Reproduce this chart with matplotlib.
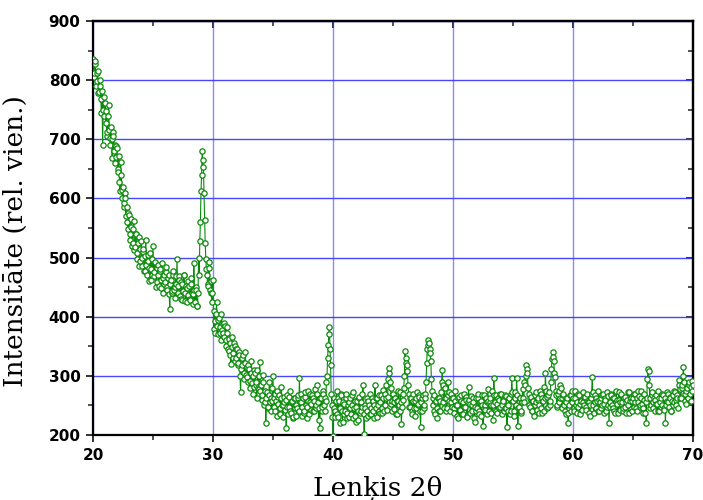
import numpy as np
import matplotlib
matplotlib.use("Agg")
import matplotlib.pyplot as plt
from matplotlib.ticker import MultipleLocator

# ---- Data ----
TWO_THETA_START = 20.0
TWO_THETA_STEP = 0.05

# intensity, one row per degree (20.00 ... 70.00, step 0.05)
INTENSITY = [
    835, 805, 812, 828, 832, 790, 798, 812, 815, 778, 780, 800, 790, 768, 745, 782, 690, 750, 772, 740,  # 20
    762, 728, 748, 705, 712, 740, 758, 715, 702, 690, 720, 700, 668, 712, 705, 680, 690, 660, 670, 688,  # 21
    686, 650, 645, 672, 628, 612, 662, 640, 615, 600, 620, 585, 592, 610, 600, 570, 585, 560, 548, 575,  # 22
    572, 530, 540, 565, 552, 520, 525, 548, 562, 512, 518, 540, 540, 498, 508, 525, 535, 485, 495, 515,  # 23
    528, 500, 486, 510, 515, 478, 478, 502, 530, 488, 470, 495, 505, 460, 482, 508, 462, 480, 498, 470,  # 24
    520, 468, 476, 490, 492, 450, 458, 482, 488, 470, 452, 478, 480, 448, 462, 490, 440, 465, 470, 455,  # 25
    458, 476, 484, 450, 446, 465, 470, 438, 413, 455, 462, 440, 444, 470, 478, 445, 450, 432, 468, 455,  # 26
    498, 452, 440, 468, 462, 435, 430, 458, 455, 428, 444, 470, 470, 440, 426, 452, 448, 425, 436, 460,  # 27
    452, 430, 428, 455, 466, 440, 438, 422, 490, 445, 425, 450, 445, 418, 418, 440, 500, 470, 528, 560,  # 28
    612, 640, 680, 665, 653, 610, 563, 525, 498, 480, 470, 455, 452, 492, 482, 445, 440, 460, 425, 440,  # 29
    462, 380, 410, 372, 392, 405, 425, 385, 370, 395, 398, 372, 382, 360, 405, 378, 372, 388, 390, 365,  # 30
    385, 350, 360, 382, 372, 345, 342, 362, 355, 335, 320, 348, 366, 330, 338, 355, 350, 325, 330, 345,  # 31
    345, 318, 322, 340, 336, 300, 273, 312, 318, 330, 335, 295, 305, 322, 340, 302, 298, 315, 318, 290,  # 32
    312, 280, 292, 305, 325, 288, 300, 270, 282, 310, 305, 285, 290, 262, 310, 280, 278, 300, 324, 275,  # 33
    285, 260, 268, 290, 302, 250, 255, 275, 220, 262, 272, 245, 248, 268, 290, 255, 262, 240, 258, 280,  # 34
    299, 248, 262, 270, 240, 258, 275, 232, 252, 265, 268, 245, 236, 262, 282, 250, 250, 230, 265, 255,  # 35
    242, 260, 212, 248, 268, 235, 248, 265, 275, 240, 238, 258, 258, 228, 230, 262, 262, 245, 250, 232,  # 36
    245, 262, 268, 240, 296, 255, 255, 270, 232, 248, 262, 238, 240, 265, 272, 250, 248, 228, 258, 275,  # 37
    236, 255, 270, 242, 252, 268, 262, 240, 240, 258, 278, 245, 250, 270, 284, 255, 225, 245, 211, 262,  # 38
    262, 240, 248, 275, 270, 250, 240, 262, 258, 290, 300, 330, 352, 370, 383, 345, 318, 270, 250, 230,  # 39
    198, 245, 262, 230, 240, 258, 275, 235, 230, 262, 258, 220, 245, 270, 268, 240, 222, 255, 252, 235,  # 40
    240, 262, 270, 238, 228, 250, 255, 230, 262, 245, 236, 268, 250, 228, 272, 245, 232, 258, 248, 222,  # 41
    258, 240, 225, 262, 265, 238, 240, 255, 248, 270, 285, 235, 201, 250, 245, 228, 262, 240, 232, 258,  # 42
    250, 235, 270, 245, 236, 262, 258, 240, 228, 250, 284, 262, 245, 230, 262, 250, 240, 268, 255, 238,  # 43
    268, 245, 238, 262, 276, 240, 250, 270, 262, 285, 242, 265, 294, 305, 313, 290, 280, 252, 258, 240,  # 44
    270, 255, 244, 262, 262, 235, 236, 258, 258, 275, 250, 240, 272, 255, 218, 248, 260, 270, 280, 300,  # 45
    342, 330, 322, 318, 308, 285, 270, 248, 248, 262, 262, 240, 235, 258, 270, 245, 258, 232, 246, 262,  # 46
    272, 250, 252, 268, 265, 240, 214, 255, 240, 262, 268, 245, 250, 270, 262, 290, 322, 345, 360, 352,  # 47
    355, 345, 338, 325, 295, 275, 250, 262, 268, 240, 236, 255, 258, 228, 245, 262, 262, 240, 240, 258,  # 48
    272, 290, 310, 285, 255, 245, 280, 262, 262, 240, 245, 268, 290, 272, 258, 240, 270, 255, 248, 262,  # 49
    262, 245, 238, 258, 275, 250, 250, 232, 228, 262, 265, 240, 242, 268, 258, 235, 235, 255, 270, 248,  # 50
    248, 265, 260, 232, 230, 255, 282, 260, 252, 238, 266, 250, 240, 262, 256, 228, 222, 248, 262, 240,  # 51
    245, 262, 270, 240, 236, 255, 258, 232, 250, 268, 215, 245, 268, 250, 242, 262, 255, 235, 278, 258,  # 52
    240, 255, 262, 238, 250, 275, 226, 250, 296, 268, 255, 240, 268, 252, 238, 262, 260, 245, 248, 270,  # 53
    270, 250, 235, 260, 258, 240, 245, 268, 266, 245, 213, 240, 250, 262, 262, 235, 240, 270, 296, 272,  # 54
    258, 240, 232, 262, 272, 250, 296, 268, 215, 245, 248, 262, 262, 238, 240, 255, 278, 262, 255, 290,  # 55
    285, 300, 318, 312, 305, 280, 270, 250, 248, 262, 265, 240, 240, 258, 258, 232, 250, 268, 272, 255,  # 56
    242, 260, 262, 238, 250, 275, 270, 245, 238, 262, 258, 240, 282, 262, 305, 275, 265, 245, 248, 268,  # 57
    272, 250, 258, 290, 312, 328, 340, 332, 325, 305, 298, 275, 268, 248, 250, 270, 275, 255, 262, 285,  # 58
    280, 262, 245, 268, 270, 250, 258, 240, 235, 255, 262, 238, 220, 245, 250, 268, 268, 240, 255, 275,  # 59
    262, 245, 240, 262, 275, 250, 255, 238, 248, 270, 268, 252, 236, 260, 258, 242, 272, 255, 250, 265,  # 60
    265, 248, 242, 258, 270, 255, 256, 238, 232, 250, 262, 270, 298, 272, 250, 238, 268, 255, 245, 262,  # 61
    258, 240, 275, 260, 240, 255, 262, 245, 250, 268, 270, 252, 238, 262, 260, 240, 248, 272, 266, 250,  # 62
    220, 248, 255, 270, 268, 250, 245, 262, 262, 240, 238, 255, 275, 260, 252, 238, 260, 272, 242, 255,  # 63
    270, 250, 255, 240, 246, 262, 265, 248, 238, 255, 260, 272, 250, 238, 272, 258, 244, 262, 258, 240,  # 64
    262, 270, 248, 255, 270, 245, 240, 262, 256, 275, 266, 248, 250, 262, 275, 252, 245, 238, 260, 270,  # 65
    238, 255, 220, 262, 295, 312, 308, 285, 262, 245, 250, 268, 272, 255, 245, 262, 260, 240, 268, 252,  # 66
    252, 240, 275, 262, 240, 255, 262, 248, 250, 270, 268, 245, 242, 262, 220, 250, 258, 272, 270, 255,  # 67
    248, 265, 262, 240, 240, 258, 268, 250, 255, 275, 272, 260, 250, 268, 262, 245, 293, 285, 278, 262,  # 68
    262, 280, 285, 300, 315, 290, 270, 258, 252, 275, 280, 262, 262, 285, 290, 270, 258, 282, 275, 292,  # 69
    285,                                                                                                  # 70
]

X_TICKS = [20, 30, 40, 50, 60, 70]
Y_TICKS = [200, 300, 400, 500, 600, 700, 800, 900]
X_LABEL = "Lenķis 2θ"
Y_LABEL = "Intensitāte (rel. vien.)"

# ---- Style ----
GREEN = "#0a8a0a"
GRID_BLUE = "#3c3cff"


def plot_pattern():
    two_theta = TWO_THETA_START + TWO_THETA_STEP * np.arange(len(INTENSITY))

    fig = plt.figure(figsize=(7.03, 5.0), dpi=100)
    ax = fig.add_axes([93 / 703, 1 - 435 / 500, 600 / 703, 414 / 500])

    ax.plot(two_theta, INTENSITY, color=GREEN, lw=0.8, marker="o",
            markersize=3.8, markerfacecolor="white", markeredgecolor=GREEN,
            markeredgewidth=0.9, zorder=3)

    ax.set_xlim(X_TICKS[0], X_TICKS[-1])
    ax.set_ylim(Y_TICKS[0], Y_TICKS[-1])
    ax.set_xticks(X_TICKS)
    ax.set_yticks(Y_TICKS)
    ax.xaxis.set_minor_locator(MultipleLocator(5))
    ax.yaxis.set_minor_locator(MultipleLocator(50))

    # horizontal lines a bit stronger than the vertical ones
    ax.yaxis.grid(True, which="major", color=GRID_BLUE, lw=1.0, alpha=0.95)
    ax.xaxis.grid(True, which="major", color=GRID_BLUE, lw=1.0, alpha=0.6)
    ax.set_axisbelow(True)

    for sp in ax.spines.values():
        sp.set_linewidth(1.6)
        sp.set_color("black")

    ax.tick_params(which="major", direction="out", length=5, width=1.4,
                   color="#333333", labelsize=11, pad=4)
    ax.tick_params(which="minor", direction="out", length=3.5, width=1.2,
                   color="#333333")
    for lab in ax.get_xticklabels() + ax.get_yticklabels():
        lab.set_fontweight("bold")

    # inward ticks on the top and right frame
    top = ax.secondary_xaxis("top")
    top.set_xticks(X_TICKS)
    top.xaxis.set_minor_locator(MultipleLocator(5))
    top.tick_params(which="major", direction="in", length=5, width=1.4,
                    color="#333333", labeltop=False)
    top.tick_params(which="minor", direction="in", length=3.5, width=1.2,
                    color="#333333")
    right = ax.secondary_yaxis("right")
    right.set_yticks(Y_TICKS)
    right.yaxis.set_minor_locator(MultipleLocator(50))
    right.tick_params(which="major", direction="in", length=5, width=1.4,
                      color="#333333", labelright=False)
    right.tick_params(which="minor", direction="in", length=3.5, width=1.2,
                      color="#333333")
    for sec in (top, right):
        for sp in sec.spines.values():
            sp.set_linewidth(1.6)

    ax.set_ylabel(Y_LABEL, family="DejaVu Serif", fontsize=19)
    ax.yaxis.set_label_coords(-0.108, 0.469)
    fig.text(378 / 703, 4 / 500, X_LABEL, family="DejaVu Serif", fontsize=19,
             ha="center", va="baseline")

    fig.savefig("out.png", dpi=100)


def main():
    plot_pattern()


if __name__ == "__main__":
    main()
